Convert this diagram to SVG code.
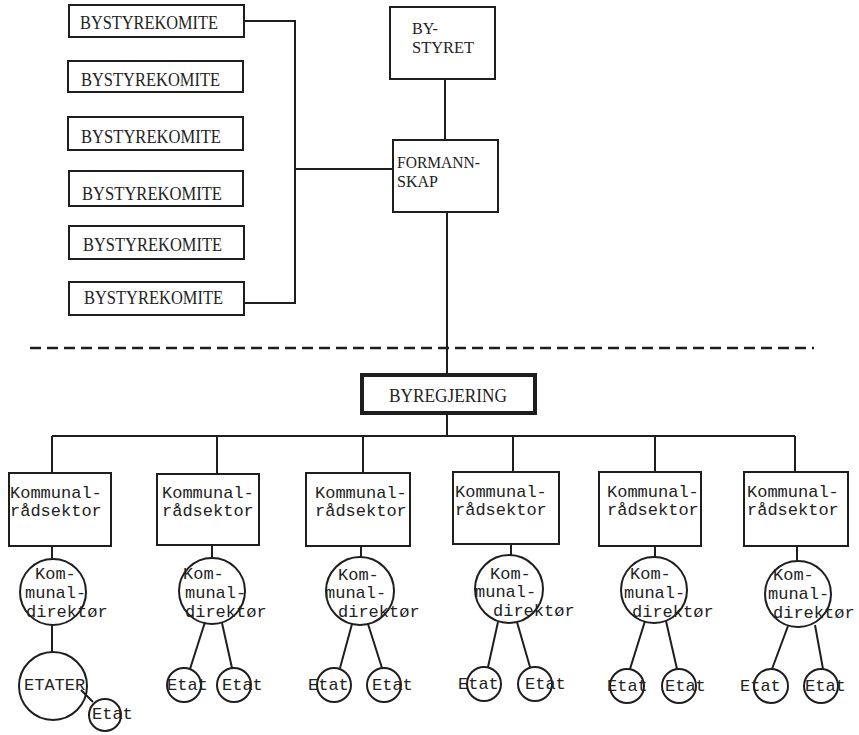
<svg xmlns="http://www.w3.org/2000/svg" width="859" height="735" viewBox="0 0 859 735">
<style>
.box{fill:#fff;stroke:#1e1e1e;stroke-width:2}
.thick{fill:#fff;stroke:#1e1e1e;stroke-width:4}
.circ{fill:none;stroke:#1e1e1e;stroke-width:2}
.ln{stroke:#1e1e1e;stroke-width:2;fill:none}
.dash{stroke:#1e1e1e;stroke-width:2.5;stroke-dasharray:11 6;fill:none}
.serif{font-family:"Liberation Serif","Times New Roman",serif;font-size:19px;fill:#222}
.serif2{font-family:"Liberation Serif","Times New Roman",serif;font-size:17px;fill:#222}
.mono{font-family:"Liberation Mono","Courier New",monospace;font-size:17px;fill:#222}
</style>
<rect width="859" height="735" fill="#fff"/>
<g id="connectors">
<path class="ln" d="M244 21H295V303H244M295 169H393"/>
<path class="ln" d="M445 79V140"/>
<path class="ln" d="M447 212V375"/>
<path class="dash" d="M30 348H814"/>
<path class="ln" d="M447 413V436M52 436H795"/>
<path class="ln" d="M52 436V473M217 436V474M363 436V473M513 436V472M655 436V472M795 436V472"/>
<path class="ln" d="M52 546V559M52 625V652M81 690L93 702"/>
<path class="ln" d="M212 545V558M205 622L190 669M222 623L232 668"/>
<path class="ln" d="M361 546V557M352 624L340 668M368 624L382 668"/>
<path class="ln" d="M511 544V555M498 622L488 667M517 622L530 667"/>
<path class="ln" d="M655 546V557M645 621L630 669M666 621L677 669"/>
<path class="ln" d="M797 546V561M788 626L772 669M815 625L823 669"/>
</g>
<g id="komite1"><rect class="box" x="69" y="5" width="175" height="32"/><text class="serif" x="80" y="29" textLength="138" lengthAdjust="spacingAndGlyphs">BYSTYREKOMITE</text></g>
<g id="komite2"><rect class="box" x="68" y="61" width="175" height="31"/><text class="serif" x="81" y="86" textLength="139" lengthAdjust="spacingAndGlyphs">BYSTYREKOMITE</text></g>
<g id="komite3"><rect class="box" x="68" y="117" width="175" height="33"/><text class="serif" x="81" y="143" textLength="140" lengthAdjust="spacingAndGlyphs">BYSTYREKOMITE</text></g>
<g id="komite4"><rect class="box" x="69" y="171" width="174" height="35"/><text class="serif" x="82" y="200" textLength="140" lengthAdjust="spacingAndGlyphs">BYSTYREKOMITE</text></g>
<g id="komite5"><rect class="box" x="69" y="226" width="175" height="33"/><text class="serif" x="83" y="251" textLength="139" lengthAdjust="spacingAndGlyphs">BYSTYREKOMITE</text></g>
<g id="komite6"><rect class="box" x="69" y="282" width="175" height="33"/><text class="serif" x="84" y="304" textLength="139" lengthAdjust="spacingAndGlyphs">BYSTYREKOMITE</text></g>
<g id="bystyret"><rect class="box" x="390" y="7" width="105" height="72"/><text class="serif2" x="412" y="34" textLength="26" lengthAdjust="spacingAndGlyphs">BY-</text><text class="serif2" x="412" y="53" textLength="62" lengthAdjust="spacingAndGlyphs">STYRET</text></g>
<g id="formannskap"><rect class="box" x="393" y="140" width="105" height="72"/><text class="serif2" x="397" y="168" textLength="83" lengthAdjust="spacingAndGlyphs">FORMANN-</text><text class="serif2" x="397" y="187" textLength="41" lengthAdjust="spacingAndGlyphs">SKAP</text></g>
<g id="byregjering"><rect class="thick" x="362" y="375" width="173" height="38"/><text class="serif" x="389" y="402" textLength="118" lengthAdjust="spacingAndGlyphs">BYREGJERING</text></g>
<g id="sektor1"><rect class="box" x="9" y="473" width="102" height="73"/><text class="mono" x="10" y="498">Kommunal-</text><text class="mono" x="10" y="516">rådsektor</text></g>
<g id="sektor2"><rect class="box" x="157" y="474" width="102" height="71"/><text class="mono" x="162" y="498">Kommunal-</text><text class="mono" x="162" y="516">rådsektor</text></g>
<g id="sektor3"><rect class="box" x="306" y="473" width="104" height="73"/><text class="mono" x="315" y="498">Kommunal-</text><text class="mono" x="315" y="516">rådsektor</text></g>
<g id="sektor4"><rect class="box" x="453" y="472" width="106" height="72"/><text class="mono" x="455" y="497">Kommunal-</text><text class="mono" x="455" y="515">rådsektor</text></g>
<g id="sektor5"><rect class="box" x="599" y="472" width="102" height="74"/><text class="mono" x="607" y="497">Kommunal-</text><text class="mono" x="607" y="515">rådsektor</text></g>
<g id="sektor6"><rect class="box" x="744" y="472" width="104" height="74"/><text class="mono" x="747" y="497">Kommunal-</text><text class="mono" x="747" y="515">rådsektor</text></g>
<g id="direktor1"><circle class="circ" cx="53" cy="592" r="33"/><text class="mono" x="35" y="579">Kom-</text><text class="mono" x="25" y="598">munal-</text><text class="mono" x="26" y="617">direktør</text></g>
<g id="direktor2"><circle class="circ" cx="212" cy="591" r="33"/><text class="mono" x="183" y="579">Kom-</text><text class="mono" x="185" y="598">munal-</text><text class="mono" x="185" y="617">direktør</text></g>
<g id="direktor3"><circle class="circ" cx="360" cy="591" r="34"/><text class="mono" x="338" y="580">Kom-</text><text class="mono" x="325" y="598">munal-</text><text class="mono" x="338" y="617">direktør</text></g>
<g id="direktor4"><circle class="circ" cx="509" cy="589" r="34"/><text class="mono" x="490" y="579">Kom-</text><text class="mono" x="475" y="597">munal-</text><text class="mono" x="493" y="616">direktør</text></g>
<g id="direktor5"><circle class="circ" cx="654" cy="590" r="33"/><text class="mono" x="630" y="579">Kom-</text><text class="mono" x="624" y="598">munal-</text><text class="mono" x="632" y="617">direktør</text></g>
<g id="direktor6"><circle class="circ" cx="798" cy="594" r="33"/><text class="mono" x="773" y="580">Kom-</text><text class="mono" x="768" y="599">munal-</text><text class="mono" x="773" y="618">direktør</text></g>
<g id="etater1"><circle class="circ" cx="53" cy="686" r="34"/><text class="mono" x="24" y="690">ETATER</text></g>
<g id="etat1"><circle class="circ" cx="105" cy="715" r="16"/><text class="mono" x="92" y="719">Etat</text></g>
<g id="etat2a"><circle class="circ" cx="184" cy="685" r="17"/><text class="mono" x="167" y="690">Etat</text></g>
<g id="etat2b"><circle class="circ" cx="234" cy="685" r="17"/><text class="mono" x="222" y="690">Etat</text></g>
<g id="etat3a"><circle class="circ" cx="334" cy="685" r="17"/><text class="mono" x="308" y="690">Etat</text></g>
<g id="etat3b"><circle class="circ" cx="384" cy="685" r="17"/><text class="mono" x="372" y="690">Etat</text></g>
<g id="etat4a"><circle class="circ" cx="484" cy="684" r="17"/><text class="mono" x="458" y="689">Etat</text></g>
<g id="etat4b"><circle class="circ" cx="535" cy="684" r="17"/><text class="mono" x="525" y="689">Etat</text></g>
<g id="etat5a"><circle class="circ" cx="627" cy="686" r="17"/><text class="mono" x="607" y="691">Etat</text></g>
<g id="etat5b"><circle class="circ" cx="679" cy="686" r="17"/><text class="mono" x="665" y="691">Etat</text></g>
<g id="etat6a"><circle class="circ" cx="771" cy="686" r="17"/><text class="mono" x="740" y="691">Etat</text></g>
<g id="etat6b"><circle class="circ" cx="821" cy="686" r="17"/><text class="mono" x="805" y="691">Etat</text></g>
</svg>
